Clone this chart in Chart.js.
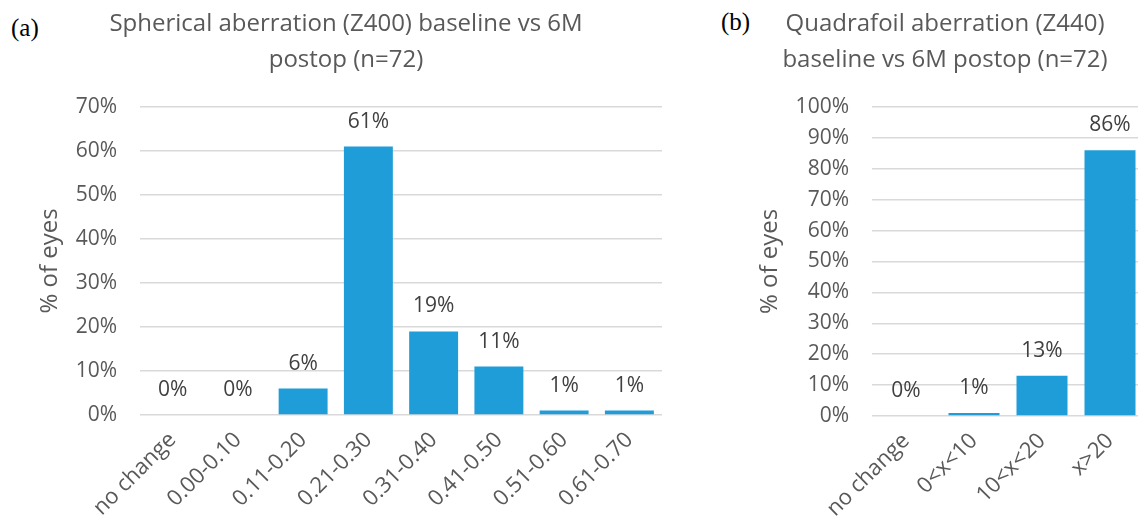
<!DOCTYPE html>
<html>
<head>
<meta charset="utf-8">
<script src="https://cdn.jsdelivr.net/npm/chart.js@4.4.1/dist/chart.umd.min.js"></script>
<style>
  html, body { margin: 0; padding: 0; background: #ffffff; }
  body { width: 1138px; height: 523px; position: relative; overflow: hidden; }
  .panel { position: absolute; top: 0; }
  .tag { position: absolute; font-family: "Liberation Serif", "DejaVu Serif", serif; font-size: 25px; color: #000; line-height: 1; }
</style>
</head>
<body>
<div class="tag" style="left:11px; top:15px;">(a)</div>
<div class="tag" style="left:721px; top:9px;">(b)</div>
<canvas id="chartA" class="panel" style="left:30px;" width="660" height="523"></canvas>
<canvas id="chartB" class="panel" style="left:746px;" width="398" height="523"></canvas>
<script>
// Spherical aberration (Z400) change bins, % of eyes
const sphericalBins = ['no change', '0.00-0.10', '0.11-0.20', '0.21-0.30', '0.31-0.40', '0.41-0.50', '0.51-0.60', '0.61-0.70'];
const sphericalPct = [0, 0, 6, 61, 19, 11, 1, 1];
const sphericalTitle = ['Spherical aberration (Z400) baseline vs 6M', 'postop (n=72)'];
const sphericalMax = 70;

// Quadrafoil aberration (Z440) change bins, % of eyes
const quadrafoilBins = ['no change', '0<x<10', '10<x<20', 'x>20'];
const quadrafoilPct = [0, 1, 13, 86];
const quadrafoilTitle = ['Quadrafoil aberration (Z440)', 'baseline vs 6M postop (n=72)'];
const quadrafoilMax = 100;

const yAxisLabel = '% of eyes';

const FONT = '"Open Sans", "Noto Sans", sans-serif';
const BAR = '#1f9dd9';
const GREY = '#595959';

// Writes each bar's value above it
const valueLabels = {
  id: 'valueLabels',
  afterDatasetsDraw(chart) {
    const ctx = chart.ctx;
    ctx.save();
    ctx.font = '21px ' + FONT;
    ctx.fillStyle = '#404040';
    ctx.textAlign = 'center';
    ctx.textBaseline = 'alphabetic';
    chart.getDatasetMeta(0).data.forEach((bar, i) => {
      const v = chart.data.datasets[0].data[i];
      ctx.fillText(v + '%', bar.x, bar.y - 19);
    });
    ctx.restore();
  }
};

function makeChart(id, labels, values, title, yMax, axisWidth, padRight, yTitlePad, areaTop, areaBottom) {
  return new Chart(document.getElementById(id), {
    type: 'bar',
    data: {
      labels: labels,
      datasets: [{
        data: values,
        backgroundColor: BAR,
        borderWidth: 0,
        barPercentage: 0.75,
        categoryPercentage: 1.0
      }]
    },
    options: {
      responsive: false,
      animation: false,
      layout: { padding: { left: 0, right: padRight, top: 0, bottom: 0 } },
      plugins: {
        legend: { display: false },
        tooltip: { enabled: false },
        title: {
          display: true,
          text: title,
          color: GREY,
          font: { family: FONT, size: 24, weight: 'normal', lineHeight: 36 / 24 },
          padding: { top: 6, bottom: areaTop - 78 }
        }
      },
      scales: {
        x: {
          grid: { display: false },
          border: { display: false },
          ticks: {
            color: GREY,
            font: { family: FONT, size: 22 },
            minRotation: 45,
            maxRotation: 45,
            padding: 4,
            autoSkip: false
          },
          afterFit(scale) { scale.height = 523 - areaBottom; }
        },
        y: {
          min: 0,
          max: yMax,
          border: { display: false },
          grid: { color: '#d9d9d9', lineWidth: 1.5, drawTicks: false },
          ticks: {
            stepSize: 10,
            color: GREY,
            padding: 23,
            font: { family: FONT, size: 21 },
            callback: v => v + '%'
          },
          title: {
            display: true,
            text: yAxisLabel,
            color: GREY,
            font: { family: FONT, size: 24 },
            padding: { top: yTitlePad, bottom: 0 }
          },
          afterFit(scale) { scale.width = axisWidth; }
        }
      }
    },
    plugins: [valueLabels]
  });
}

makeChart('chartA', sphericalBins, sphericalPct, sphericalTitle, sphericalMax, 110, 28, 6, 107, 415);
makeChart('chartB', quadrafoilBins, quadrafoilPct, quadrafoilTitle, quadrafoilMax, 126, 0, 10, 107, 416);
</script>
</body>
</html>
